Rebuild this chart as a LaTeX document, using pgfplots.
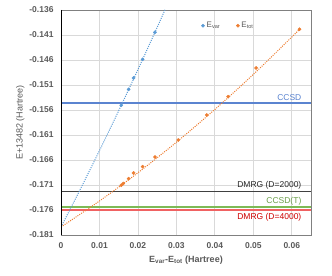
\documentclass[border=0pt]{standalone}
\usepackage{fontspec}
\setmainfont{Liberation Sans}
\usepackage{pgfplots}
\pgfplotsset{compat=1.18}
\usetikzlibrary{calc}
\definecolor{cvar}{HTML}{5B9BD5}
\definecolor{ctot}{HTML}{ED7D31}
\definecolor{lccsd}{HTML}{5B84D0}
\definecolor{ldmrgA}{HTML}{404040}
\definecolor{lccsdt}{HTML}{7DBA55}
\definecolor{ldmrgB}{HTML}{F06262}
\definecolor{tickc}{HTML}{595959}
\definecolor{gridc}{HTML}{D9D9D9}
\begin{document}
\begin{tikzpicture}
\begin{axis}[name=ax, scale only axis, width=250bp, height=225bp,
  xmin=0, xmax=0.065, ymin=-0.181, ymax=-0.136,
  scaled ticks=false,
  xtick={0,0.01,0.02,0.03,0.04,0.05,0.06},
  xticklabels={0,0.01,0.02,0.03,0.04,0.05,0.06},
  ytick={-0.181,-0.176,-0.171,-0.166,-0.161,-0.156,-0.151,-0.146,-0.141,-0.136},
  yticklabels={-0.181,-0.176,-0.171,-0.166,-0.161,-0.156,-0.151,-0.146,-0.141,-0.136},
  major tick length=0pt,
  grid=major, major grid style={gridc, line width=0.8bp},
  axis line style={draw=gray, line width=0.8bp},
  tick label style={font=\fontsize{8.5bp}{10bp}\selectfont\bfseries, text=tickc},
  xticklabel style={yshift=-4bp},
  yticklabel style={xshift=-4bp},
  xlabel={E\textsubscript{var}-E\textsubscript{tot} (Hartree)},
  ylabel={E+13482 (Hartree)},
  label style={font=\fontsize{9bp}{11bp}\selectfont, text=tickc},
  xlabel style={font=\fontsize{9bp}{11bp}\selectfont\bfseries, yshift=-1bp},
  ylabel style={yshift=-2bp},
  legend style={draw=none, fill=none, at={(0.67,0.93)}, anchor=center,
    font=\fontsize{8bp}{9bp}\selectfont, text=tickc, legend columns=2,
    /tikz/every even column/.append style={column sep=14bp}},
  legend cell align=left,
  clip=true,
]
% horizontal reference lines
\addplot[color=lccsd, line width=1.6bp, mark=none, forget plot] coordinates {(0,-0.15466) (0.065,-0.15466)};
\addplot[color=ldmrgA, line width=1.6bp, mark=none, forget plot] coordinates {(0,-0.17234) (0.065,-0.17234)};
\addplot[color=lccsdt, line width=1.6bp, mark=none, forget plot] coordinates {(0,-0.17540) (0.065,-0.17540)};
\addplot[color=ldmrgB, line width=1.6bp, mark=none, forget plot] coordinates {(0,-0.17600) (0.065,-0.17600)};
% trend lines
\addplot[cvar, line width=1bp, dash pattern=on 1bp off 1.2bp, smooth, forget plot] coordinates {
(0,-0.1794) (0.005,-0.17188) (0.010,-0.16412) (0.015,-0.15614) (0.020,-0.14792) (0.025,-0.13948) (0.0275,-0.13517)};
\addplot[ctot, line width=1bp, dash pattern=on 1bp off 1.2bp, smooth, forget plot] coordinates {
(0,-0.1794) (0.01,-0.17420) (0.02,-0.16855) (0.03,-0.16245) (0.04,-0.15589) (0.05,-0.14888) (0.06,-0.14141) (0.062,-0.13985)};
% data
\addplot[only marks, mark=*, mark size=1.6bp, cvar] coordinates {
(0.02442,-0.14046) (0.02122,-0.14586) (0.01888,-0.1496) (0.01758,-0.15186) (0.01566,-0.15506)};
\addlegendentry{E\textsubscript{var}}
\addplot[only marks, mark=*, mark size=1.6bp, ctot] coordinates {
(0.0620,-0.13986) (0.05073,-0.1476) (0.04345,-0.15334) (0.03792,-0.1570) (0.03047,-0.1620)
(0.02442,-0.1654) (0.02122,-0.16734) (0.01888,-0.1686) (0.01758,-0.16974) (0.01566,-0.17106) (0.0162,-0.1707)};
\addlegendentry{E\textsubscript{tot}}
\draw[black, line width=0.9bp] (rel axis cs:0,1) -- (rel axis cs:0,0) -- (rel axis cs:1,0);
% labels
\node[anchor=south east, text=lccsd, font=\fontsize{8.5bp}{10bp}\selectfont, inner sep=1bp] at (axis cs:0.0628,-0.1544) {CCSD};
\node[anchor=south east, text=black!85, font=\fontsize{8.5bp}{10bp}\selectfont, inner sep=1bp] at (axis cs:0.0628,-0.1721) {DMRG (D=2000)};
\node[anchor=south east, text=lccsdt!85!black, font=\fontsize{8.5bp}{10bp}\selectfont, inner sep=1bp] at (axis cs:0.0628,-0.1752) {CCSD(T)};
\node[anchor=north east, text=red!80!black, font=\fontsize{8.5bp}{10bp}\selectfont, inner sep=1bp] at (axis cs:0.0628,-0.1764) {DMRG (D=4000)};
\end{axis}
\pgfresetboundingbox
\path ($(ax.south west)+(-61bp,-41bp)$) rectangle ($(ax.north east)+(21bp,10bp)$);
\end{tikzpicture}
\end{document}
